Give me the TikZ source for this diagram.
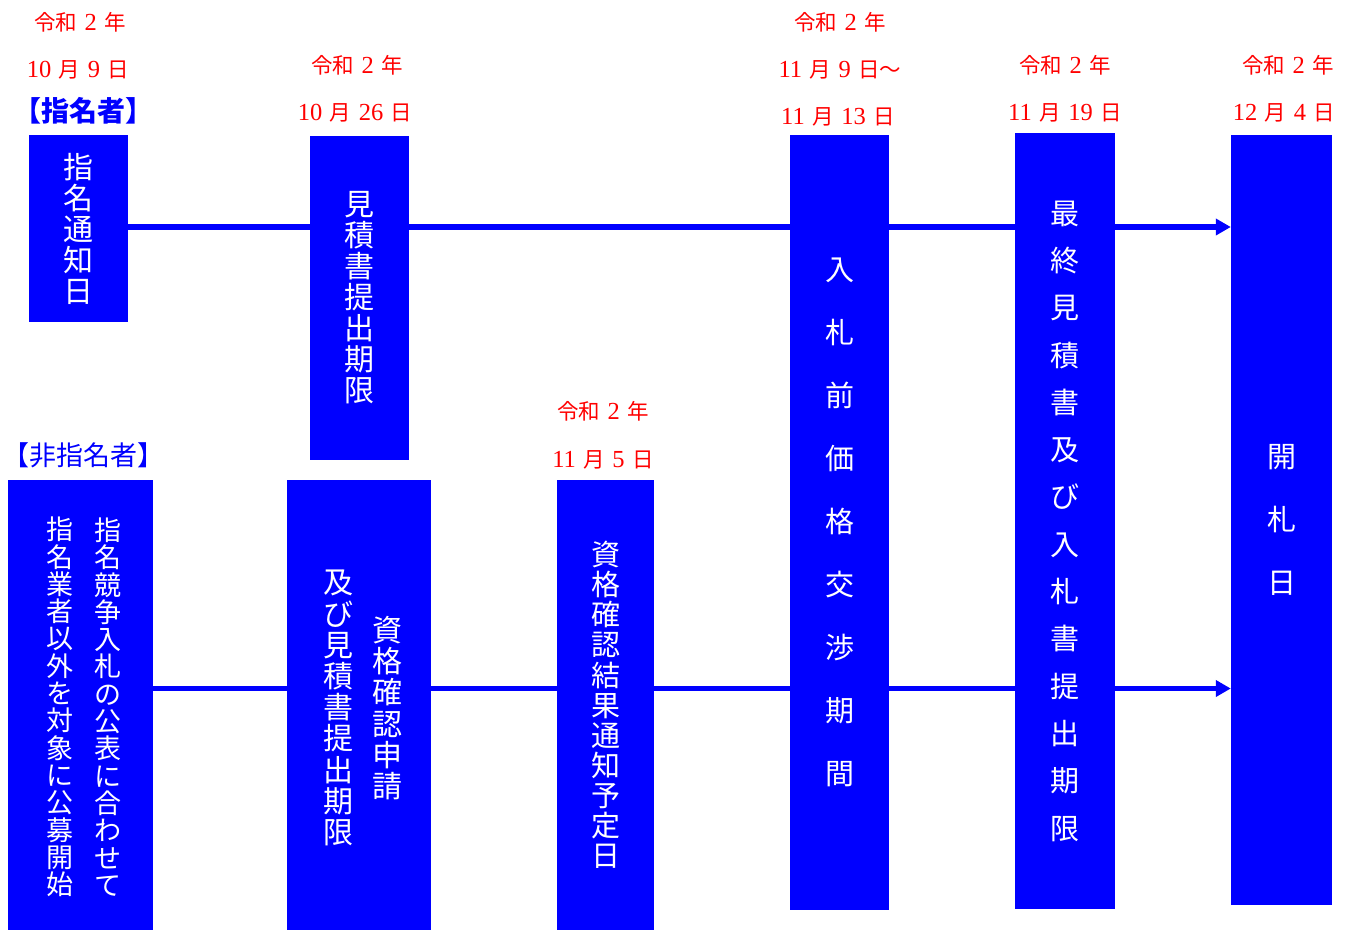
\documentclass[tikz,border=0pt]{standalone}
\usepackage{fontspec}
\setmainfont{Noto Sans CJK JP}
\newfontfamily\numfont{Liberation Serif}
\usetikzlibrary{arrows.meta}
\definecolor{bblue}{RGB}{0,0,255}
\definecolor{rred}{RGB}{255,0,0}
\newcommand\nm[1]{{\numfont\fontsize{24.5}{24.5}\selectfont #1}}
\newcommand\gp{\hspace{7.5pt}}
\begin{document}
\begin{tikzpicture}[x=1pt,y=-1pt,
  box/.style={fill=bblue, inner sep=0pt, text=white, align=center},
  coltext/.style={inner sep=0pt, text=white, align=center},
  lbl/.style={text=rred, font=\fontsize{21.5}{21.5}\selectfont, inner sep=0pt},
  tl/.style={draw=bblue, line width=5.5pt},
  ar/.style={tl, -{Triangle[length=15pt,width=16pt]}},
  hd/.style={text=bblue, inner sep=0pt}]
\useasboundingbox (0,0) rectangle (1351,930);

% headings
\node[hd, font=\fontsize{28}{28}\selectfont\bfseries] (h1) at (83,111) {【指名者】};
\node[hd, font=\fontsize{27}{27}\selectfont] (h2) at (83,455) {【非指名者】};

% boxes
\node[box, minimum width=99pt, minimum height=187pt, font=\fontsize{30}{31}\selectfont] (b1) at (78.5,228.5) {指\\名\\通\\知\\日};
\node[box, minimum width=99pt, minimum height=324pt, font=\fontsize{30}{31}\selectfont] (b2) at (359.5,298) {見\\積\\書\\提\\出\\期\\限};
\node[box, minimum width=99pt, minimum height=775pt, font=\fontsize{29}{63}\selectfont] (b3) at (839.5,522.5) {入\\札\\前\\価\\格\\交\\渉\\期\\間};
\node[box, minimum width=100pt, minimum height=776pt, font=\fontsize{29}{47.3}\selectfont] (b4) at (1065,521) {最\\終\\見\\積\\書\\及\\び\\入\\札\\書\\提\\出\\期\\限};
\node[box, minimum width=101pt, minimum height=770pt, font=\fontsize{29}{63}\selectfont] (b5) at (1281.5,520) {開\\札\\日};
\node[box, minimum width=145pt, minimum height=450pt] (b6) at (80.5,705) {};
\node[coltext, font=\fontsize{27}{27.3}\selectfont] (b6r) at (108,707) {指\\名\\競\\争\\入\\札\\の\\公\\表\\に\\合\\わ\\せ\\て};
\node[coltext, font=\fontsize{27}{27.3}\selectfont] (b6l) at (60,707) {指\\名\\業\\者\\以\\外\\を\\対\\象\\に\\公\\募\\開\\始};
\node[box, minimum width=144pt, minimum height=450pt] (b7) at (359,705) {};
\node[coltext, font=\fontsize{30}{31.2}\selectfont] (b7r) at (387,708) {資\\格\\確\\認\\申\\請};
\node[coltext, font=\fontsize{30}{31.2}\selectfont] (b7l) at (338,708) {及\\び\\見\\積\\書\\提\\出\\期\\限};
\node[box, minimum width=97pt, minimum height=450pt, font=\fontsize{29}{30.1}\selectfont] (b8) at (605.5,705) {資\\格\\確\\認\\結\\果\\通\\知\\予\\定\\日};

% date labels
\node[lbl] (d1a) at (80,22) {令和\gp{}\nm{2}\gp{}年};
\node[lbl] (d1b) at (78,70) {\nm{10}\gp{}月\gp{}\nm{9}\gp{}日};
\node[lbl] (d2a) at (357,65) {令和\gp{}\nm{2}\gp{}年};
\node[lbl] (d2b) at (355,113) {\nm{10}\gp{}月\gp{}\nm{26}\gp{}日};
\node[lbl] (d3a) at (840,22) {令和\gp{}\nm{2}\gp{}年};
\node[lbl] (d3b) at (840,70) {\nm{11}\gp{}月\gp{}\nm{9}\gp{}日～};
\node[lbl] (d3c) at (838,117) {\nm{11}\gp{}月\gp{}\nm{13}\gp{}日};
\node[lbl] (d4a) at (1065,65) {令和\gp{}\nm{2}\gp{}年};
\node[lbl] (d4b) at (1065,113) {\nm{11}\gp{}月\gp{}\nm{19}\gp{}日};
\node[lbl] (d5a) at (1288,65) {令和\gp{}\nm{2}\gp{}年};
\node[lbl] (d5b) at (1284,113) {\nm{12}\gp{}月\gp{}\nm{4}\gp{}日};
\node[lbl] (d8a) at (603,411) {令和\gp{}\nm{2}\gp{}年};
\node[lbl] (d8b) at (603,460) {\nm{11}\gp{}月\gp{}\nm{5}\gp{}日};

% connectors
\coordinate (ty) at (0,227);
\coordinate (by) at (0,688.5);
\draw[tl] (b1.east |- ty) -- (b2.west |- ty);
\draw[tl] (b2.east |- ty) -- (b3.west |- ty);
\draw[tl] (b3.east |- ty) -- (b4.west |- ty);
\draw[ar] (b4.east |- ty) -- (b5.west |- ty);
\draw[tl] (b6.east |- by) -- (b7.west |- by);
\draw[tl] (b7.east |- by) -- (b8.west |- by);
\draw[tl] (b8.east |- by) -- (b3.west |- by);
\draw[tl] (b3.east |- by) -- (b4.west |- by);
\draw[ar] (b4.east |- by) -- (b5.west |- by);
\end{tikzpicture}
\end{document}
